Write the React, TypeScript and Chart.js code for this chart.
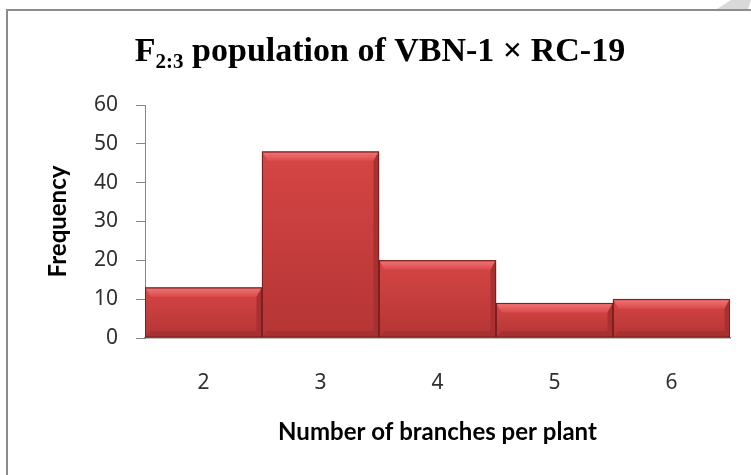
import { useEffect, useRef } from "react";
import { Chart, registerables } from "chart.js";

Chart.register(...registerables);

const categories = ["2", "3", "4", "5", "6"];
const frequency = [13, 48, 20, 9, 10];
const yTicks = [0, 10, 20, 30, 40, 50, 60];
const titleMain = "F";
const titleSub = "2:3";
const titleRest = " population of VBN-1 \u00d7 RC-19";
const xTitle = "Number of branches per plant";
const yTitle = "Frequency";

const SANS = "Lato, 'Noto Sans', sans-serif";
const TICKSANS = "'Noto Sans', Lato, sans-serif";
const SERIF = "'Liberation Serif', 'Times New Roman', serif";

const framePlugin = {
  id: "frame",
  beforeDraw(chart: any) {
    const ctx = chart.ctx;
    ctx.save();
    ctx.fillStyle = "#ffffff";
    ctx.fillRect(0, 0, chart.width, chart.height);
    ctx.strokeStyle = "#8c8c8c";
    ctx.lineWidth = 2;
    ctx.beginPath();
    ctx.moveTo(7, chart.height);
    ctx.lineTo(7, 10);
    ctx.lineTo(chart.width, 10);
    ctx.stroke();
    ctx.fillStyle = "#d9d9d9";
    ctx.beginPath();
    ctx.moveTo(717, 9);
    ctx.lineTo(731, 0);
    ctx.lineTo(751, 0);
    ctx.lineTo(748, 9);
    ctx.closePath();
    ctx.fill();
    ctx.restore();
  },
  afterDraw(chart: any) {
    const ctx = chart.ctx;
    ctx.save();
    ctx.fillStyle = "#000000";
    ctx.textBaseline = "alphabetic";
    const mainFont = `bold 34px ${SERIF}`;
    const subFont = `bold 21px ${SERIF}`;
    ctx.font = mainFont;
    const wF = ctx.measureText(titleMain).width;
    const wR = ctx.measureText(titleRest).width;
    ctx.font = subFont;
    const wS = ctx.measureText(titleSub).width;
    const total = wF + wS + wR;
    let x = 380 - total / 2;
    const base = 61;
    ctx.font = mainFont;
    ctx.fillText(titleMain, x, base);
    x += wF;
    ctx.font = subFont;
    ctx.fillText(titleSub, x, base + 7);
    x += wS;
    ctx.font = mainFont;
    ctx.fillText(titleRest, x, base);
    ctx.restore();
  },
};

const bevelPlugin = {
  id: "bevel",
  beforeDatasetsDraw(chart: any) {
    const ctx = chart.ctx;
    ctx.save();
    ctx.shadowColor = "rgba(0,0,0,0.3)";
    ctx.shadowBlur = 4;
    ctx.shadowOffsetX = 2;
    ctx.shadowOffsetY = 1;
  },
  afterDatasetsDraw(chart: any) {
    const ctx = chart.ctx;
    ctx.restore();
    const meta = chart.getDatasetMeta(0);
    ctx.save();
    meta.data.forEach((bar: any) => {
      const { x, y, base, width } = bar.getProps(["x", "y", "base", "width"], true);
      const l = x - width / 2 + 0.5;
      const r = x + width / 2 - 0.5;
      const t = y + 0.5;
      const b = base - 0.5;
      const bt = Math.min(9, (b - t) / 2);
      const bs = 5;
      const bb = Math.min(6, (b - t) / 3);
      const g = ctx.createLinearGradient(0, t, 0, b);
      g.addColorStop(0, "#d64545");
      g.addColorStop(1, "#b53535");
      ctx.fillStyle = g;
      ctx.fillRect(l, t, r - l, b - t);
      // top bevel
      const gt = ctx.createLinearGradient(0, t, 0, t + bt);
      gt.addColorStop(0, "#f27474");
      gt.addColorStop(1, "#d94a4a");
      ctx.fillStyle = gt;
      ctx.beginPath();
      ctx.moveTo(l, t);
      ctx.lineTo(r, t);
      ctx.lineTo(r - bs, t + bt);
      ctx.lineTo(l + bs, t + bt);
      ctx.closePath();
      ctx.fill();
      // right bevel
      ctx.fillStyle = "#a83030";
      ctx.beginPath();
      ctx.moveTo(r, t);
      ctx.lineTo(r - bs, t + bt);
      ctx.lineTo(r - bs, b - bb);
      ctx.lineTo(r, b);
      ctx.closePath();
      ctx.fill();
      // bottom bevel
      ctx.fillStyle = "#a53131";
      ctx.beginPath();
      ctx.moveTo(l, b);
      ctx.lineTo(l + bs, b - bb);
      ctx.lineTo(r - bs, b - bb);
      ctx.lineTo(r, b);
      ctx.closePath();
      ctx.fill();
      ctx.strokeStyle = "#7a2020";
      ctx.lineWidth = 1;
      ctx.strokeRect(l, t, r - l, b - t);
    });
    ctx.restore();
  },
};

export default function App() {
  const ref = useRef<HTMLCanvasElement | null>(null);
  useEffect(() => {
    if (!ref.current) return;
    const chart = new Chart(ref.current, {
      type: "bar",
      data: {
        labels: categories,
        datasets: [
          {
            label: yTitle,
            data: frequency,
            backgroundColor: "#c53d3d",
            borderColor: "#7a2020",
            borderWidth: 1,
            barPercentage: 1,
            categoryPercentage: 1,
          },
        ],
      },
      options: {
        animation: false,
        responsive: false,
        devicePixelRatio: 1,
        layout: { padding: { left: 0, right: 21, top: 105, bottom: 0 } },
        plugins: {
          legend: { display: false },
          title: { display: false },
          tooltip: { enabled: false },
        },
        scales: {
          x: {
            grid: { display: false },
            border: { display: true, color: "#868686", width: 1.5 },
            ticks: {
              color: "#303030",
              font: { family: TICKSANS, size: 21 },
              padding: 24,
            },
            title: {
              display: true,
              text: xTitle,
              color: "#000000",
              font: { family: SANS, size: 24, weight: "bold" },
              padding: { top: 0, bottom: 28 },
            },
            afterFit: (scale: any) => {
              scale.height = 137;
            },
          },
          y: {
            min: 0,
            max: 60,
            afterBuildTicks: (scale: any) => {
              scale.ticks = yTicks.map((v) => ({ value: v }));
            },
            grid: {
              display: true,
              drawOnChartArea: false,
              drawTicks: true,
              tickLength: 9,
              color: "#868686",
            },
            border: { display: true, color: "#868686", width: 1 },
            ticks: {
              color: "#303030",
              font: { family: TICKSANS, size: 21 },
              padding: 18,
            },
            title: {
              display: true,
              text: yTitle,
              color: "#000000",
              font: { family: SANS, size: 24, weight: "bold" },
              padding: { top: 44, bottom: 0 },
            },
            afterFit: (scale: any) => {
              scale.width = 145;
            },
          },
        },
      },
      plugins: [framePlugin, bevelPlugin],
    });
    return () => chart.destroy();
  }, []);
  return (
    <div style={{ position: "fixed", left: 0, top: 0, width: 751, height: 475 }}>
      <canvas ref={ref} width={751} height={475} style={{ display: "block" }} />
    </div>
  );
}
